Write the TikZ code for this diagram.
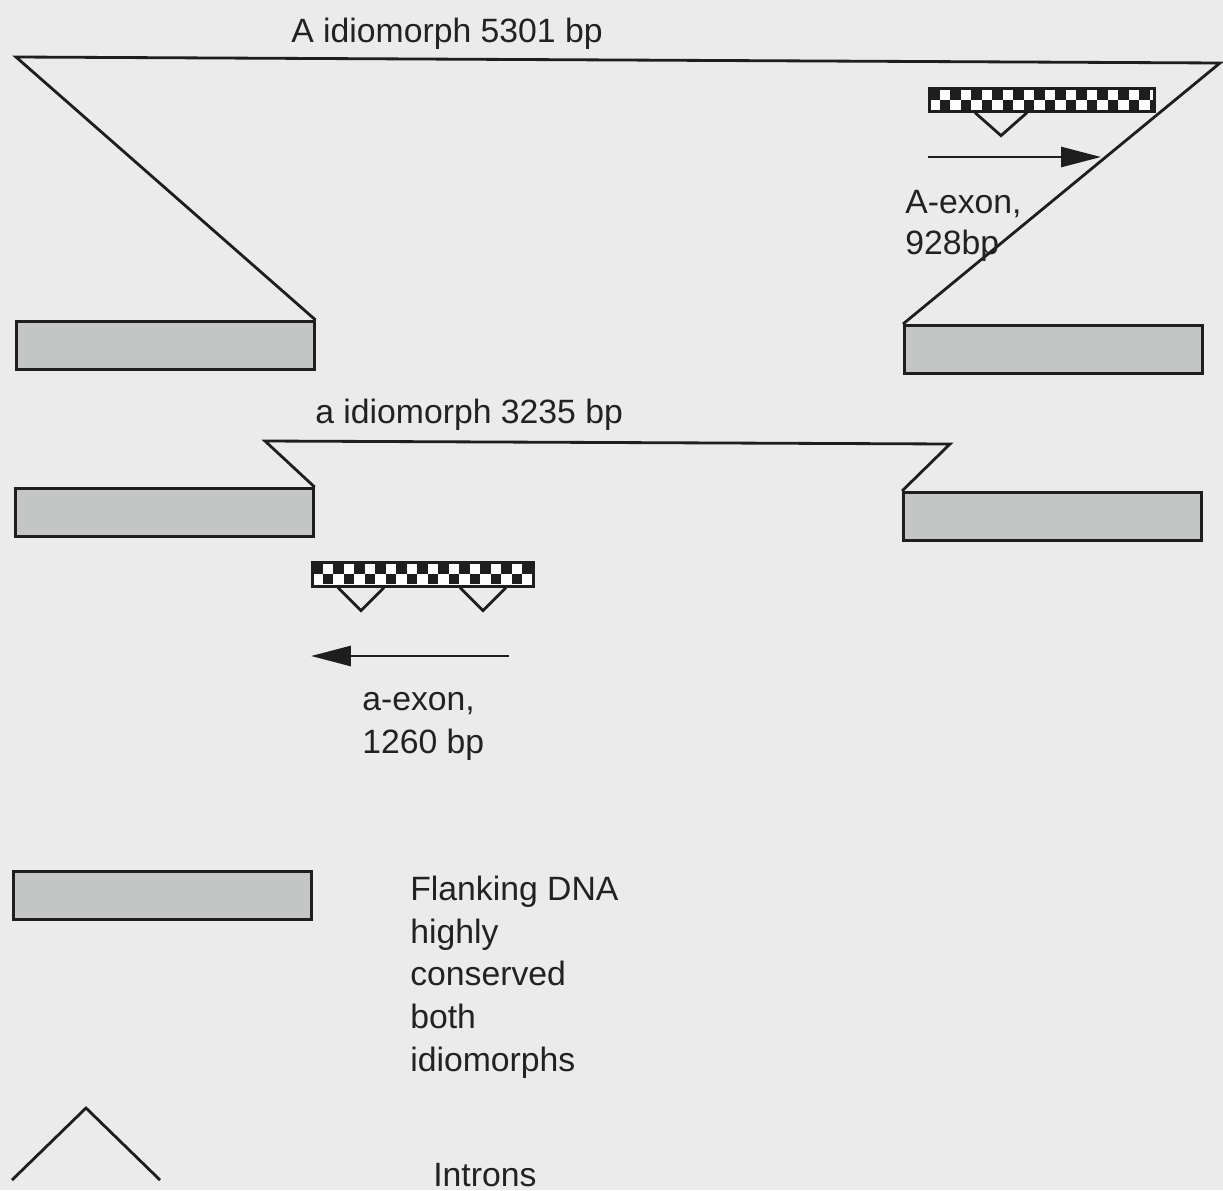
\documentclass[tikz,border=0pt]{standalone}
\usepackage{fontspec}
\setmainfont{Liberation Sans}
\usetikzlibrary{arrows.meta, calc}

\definecolor{paper}{HTML}{EBEBEB}
\definecolor{flankgray}{HTML}{C4C6C6}
\definecolor{ink}{HTML}{1E1E1E}
\definecolor{textgray}{HTML}{222222}

\begin{document}
\begin{tikzpicture}[
    x=0.02cm, y=-0.02cm,
    font=\fontsize{19.2}{24.2}\selectfont,
    % Styles
    flank/.style = {rectangle, draw=ink, line width=1.5pt, fill=flankgray, minimum width=5.96cm, minimum height=0.96cm, inner sep=0, anchor=north west},
    exonbar/.style = {rectangle, draw=ink, line width=1.5pt, fill=white, minimum height=0.46cm, inner sep=0, anchor=north west,
        path picture={
            \foreach \i in {0,...,22} {
                \pgfmathtruncatemacro{\r}{mod(\i,2)}
                \fill[ink] ($(path picture bounding box.north west)+(\i*10.5,2+\r*10)$) rectangle ++(10.5,10);
            }
        }},
    idio/.style = {draw=ink, line width=1.6pt},
    orient/.style = {-{Triangle[length=0.8cm, width=0.4cm]}, draw=ink, line width=1.6pt},
    lbl/.style = {text=textgray, inner sep=0, anchor=base west}
]

\fill[paper] (0,0) rectangle (1223,1190);
\useasboundingbox (0,0) rectangle (1223,1190);

% --- A IDIOMORPH ---
\node[flank] (lflankA) at (15,320) {};
\node[flank] (rflankA) at (903,324) {};
\coordinate (Atl) at (16,57);
\coordinate (Atr) at (1220,63);
\draw[idio] (lflankA.north east) -- (Atl) -- (Atr) -- (rflankA.north west);
\node[lbl] (titleA) at (291,42) {A idiomorph 5301 bp};

\node[exonbar, minimum width=4.5cm] (exonA) at (928,87) {};
\draw[idio] ($(exonA.south west)+(47,0)$) -- ++(26,23) -- ++(26,-23);

\coordinate (arrA_tail) at (928,157);
\coordinate (arrA_head) at (1101,157);
\draw[orient] (arrA_tail) -- (arrA_head);
\node[lbl] (exonAlbl) at (905,213) {A-exon,};
\node[lbl] (sizeAlbl) at (905,254) {928bp};

% --- a IDIOMORPH ---
\node[flank] (lflankB) at (14,487) {};
\node[flank] (rflankB) at (902,491) {};
\coordinate (Btl) at (265,441);
\coordinate (Btr) at (950,444);
\draw[idio] (lflankB.north east) -- (Btl) -- (Btr) -- (rflankB.north west);
\node[lbl] (titleB) at (315,423) {a idiomorph 3235 bp};

\node[exonbar, minimum width=4.42cm, minimum height=0.48cm] (exonB) at (311,561) {};
\draw[idio] ($(exonB.south west)+(27,0)$) -- ++(23,23) -- ++(23,-23);
\draw[idio] ($(exonB.south west)+(149,0)$) -- ++(23,23) -- ++(23,-23);

\coordinate (arrB_tail) at (509,656);
\coordinate (arrB_head) at (311,656);
\draw[orient] (arrB_tail) -- (arrB_head);
\node[lbl] (exonBlbl) at (362,710) {a-exon,};
\node[lbl] (sizeBlbl) at (362,753) {1260 bp};

% --- LEGEND ---
\node[flank] (keyflank) at (12,870) {};
\node[lbl, align=left] (keyflanklbl) at (410,1071) {Flanking DNA\\highly\\conserved\\both\\idiomorphs};

\coordinate (keyL) at (12,1180);
\coordinate (keyTop) at (86,1108);
\coordinate (keyR) at (160,1180);
\draw[idio] (keyL) -- (keyTop) -- (keyR);
\node[lbl] (keyintronlbl) at (433,1186) {Introns};

\end{tikzpicture}
\end{document}
